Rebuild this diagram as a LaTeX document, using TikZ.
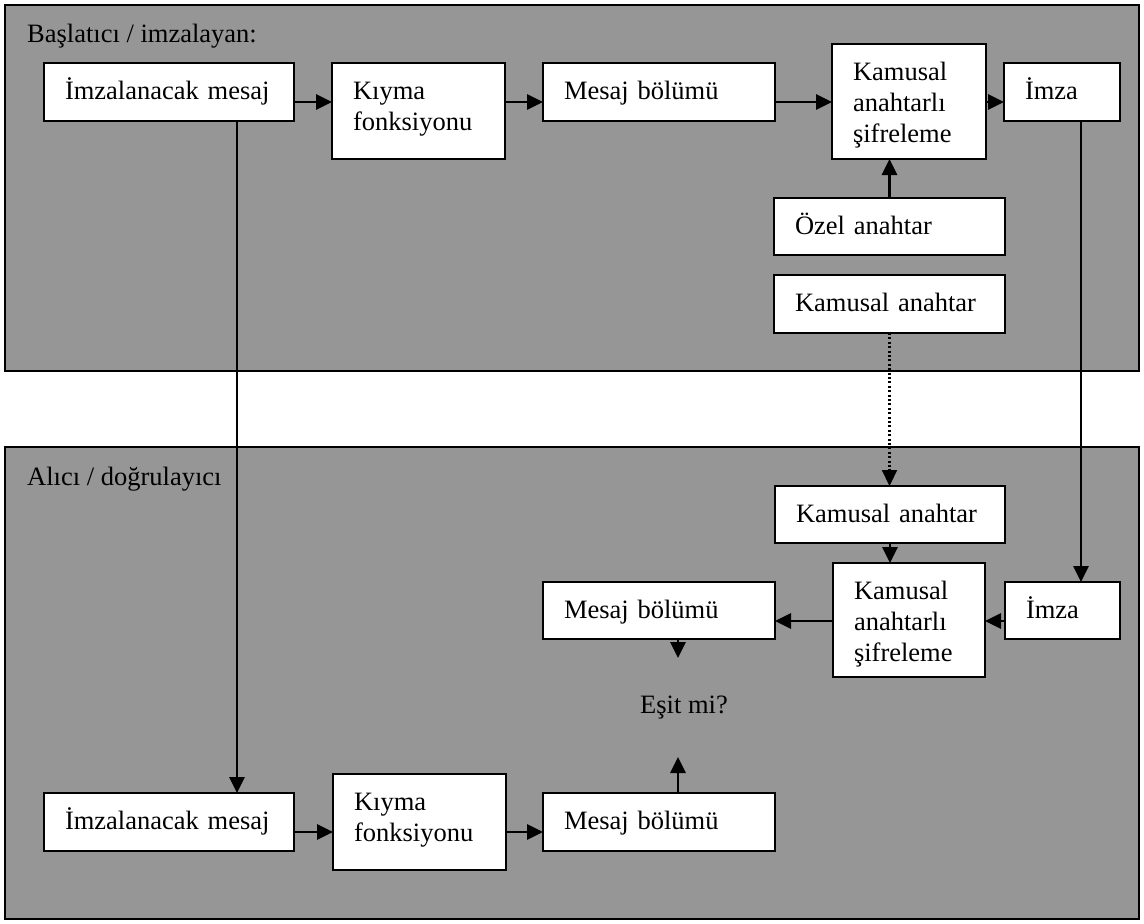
\documentclass[tikz,border=0pt]{standalone}
\usepackage{fontspec}
\setmainfont{Liberation Serif}
\usetikzlibrary{arrows.meta}
\definecolor{panelgray}{RGB}{150,150,150}
\begin{document}
\begin{tikzpicture}[x=1pt,y=-1pt,
  txt/.style={font=\fontsize{26.5}{31}\selectfont},
  box/.style={draw, line width=2.2pt, fill=white, anchor=north west, outer sep=0pt,
              inner xsep=21pt, inner ysep=0pt, align=left, text height=36pt, txt},
  zone/.style={draw, line width=2.2pt, fill=panelgray},
  title/.style={anchor=base west, inner sep=0pt, txt},
  arr/.style={line width=2.8pt, -{Triangle[length=16pt,width=15pt]}},
  dotarr/.style={line width=2.2pt, dash pattern=on 2pt off 2.4pt,
                 -{Triangle[length=16pt,width=15pt]}}]
\fill[white] (0,0) rectangle (1144,924);
\useasboundingbox (0,0) rectangle (1144,924);

% the two parties
\draw[zone] (5,5) rectangle (1139,371);
\draw[zone] (5,447) rectangle (1139,919);
\node[title] (sender) at (27,42) {Başlatıcı / imzalayan:};
\node[title] (receiver) at (27,485) {Alıcı / doğrulayıcı};

% signer side
\node[box, text width=208pt, text depth=22pt] (t1) at (44,63) {İmzalanacak mesaj};
\node[box, text width=131pt, text depth=60pt] (t2) at (332,63) {Kıyma\\fonksiyonu};
\node[box, text width=190pt, text depth=22pt] (t3) at (543,63) {Mesaj bölümü};
\node[box, text width=112pt, text depth=79pt] (t4) at (832,44) {Kamusal\\anahtarlı\\şifreleme};
\node[box, text width=74pt,  text depth=22pt] (t5) at (1004,63) {İmza};
\node[box, text width=189pt, text depth=21pt] (t6) at (774,198) {Özel anahtar};
\node[box, text width=189pt, text depth=22pt] (t7) at (774,275) {Kamusal anahtar};

% verifier side
\node[box, text width=188pt, text depth=21pt] (b1) at (775,486) {Kamusal anahtar};
\node[box, text width=110pt, text depth=78pt] (b2) at (833,563) {Kamusal\\anahtarlı\\şifreleme};
\node[box, text width=73pt,  text depth=21pt] (b3) at (1005,582) {İmza};
\node[box, text width=190pt, text depth=21pt] (b4) at (543,582) {Mesaj bölümü};
\node[box, text width=208pt, text depth=22pt] (b5) at (44,793) {İmzalanacak mesaj};
\node[box, text width=131pt, text depth=60pt] (b6) at (333,774) {Kıyma\\fonksiyonu};
\node[box, text width=190pt, text depth=22pt] (b7) at (543,793) {Mesaj bölümü};
\node[title] (eq) at (640,713) {Eşit mi?};

% signing chain
\path (t3.west) ++(0,10) coordinate (r1);
\draw[arr] (t1.east |- r1) -- (t2.west |- r1);
\draw[arr] (t2.east |- r1) -- (t3.west |- r1);
\draw[arr] (t3.east |- r1) -- (t4.west |- r1);
\draw[arr] (t4.east |- r1) -- (t5.west |- r1);
\draw[arr] (t6.north) -- (t6.north |- t4.south);

% transfers between the parties
\draw[dotarr] (t7.south) -- (t7.south |- b1.north);
\path (t5.south) ++(19,0) coordinate (v1);
\draw[arr] (v1) -- (v1 |- b3.north);
\path (t1.south) ++(68,0) coordinate (v2);
\draw[arr] (v2) -- (v2 |- b5.north);

% verification chain
\draw[arr] (b1.south) -- (b1.south |- b2.north);
\path (b3.west) ++(0,10.5) coordinate (r2);
\draw[arr] (b3.west |- r2) -- (b2.east |- r2);
\draw[arr] (b2.west |- r2) -- (b4.east |- r2);
\path (b5.east) ++(0,10) coordinate (r3);
\draw[arr] (b5.east |- r3) -- (b6.west |- r3);
\draw[arr] (b6.east |- r3) -- (b7.west |- r3);

% both digests point at the comparison
\path (b4.south) ++(19,0) coordinate (v3);
\draw[arr] (v3) -- ++(0,19) coordinate (q1);
\path (b7.north) ++(19,0) coordinate (v4);
\draw[arr] (v4) -- ++(0,-36) coordinate (q2);
\end{tikzpicture}
\end{document}
